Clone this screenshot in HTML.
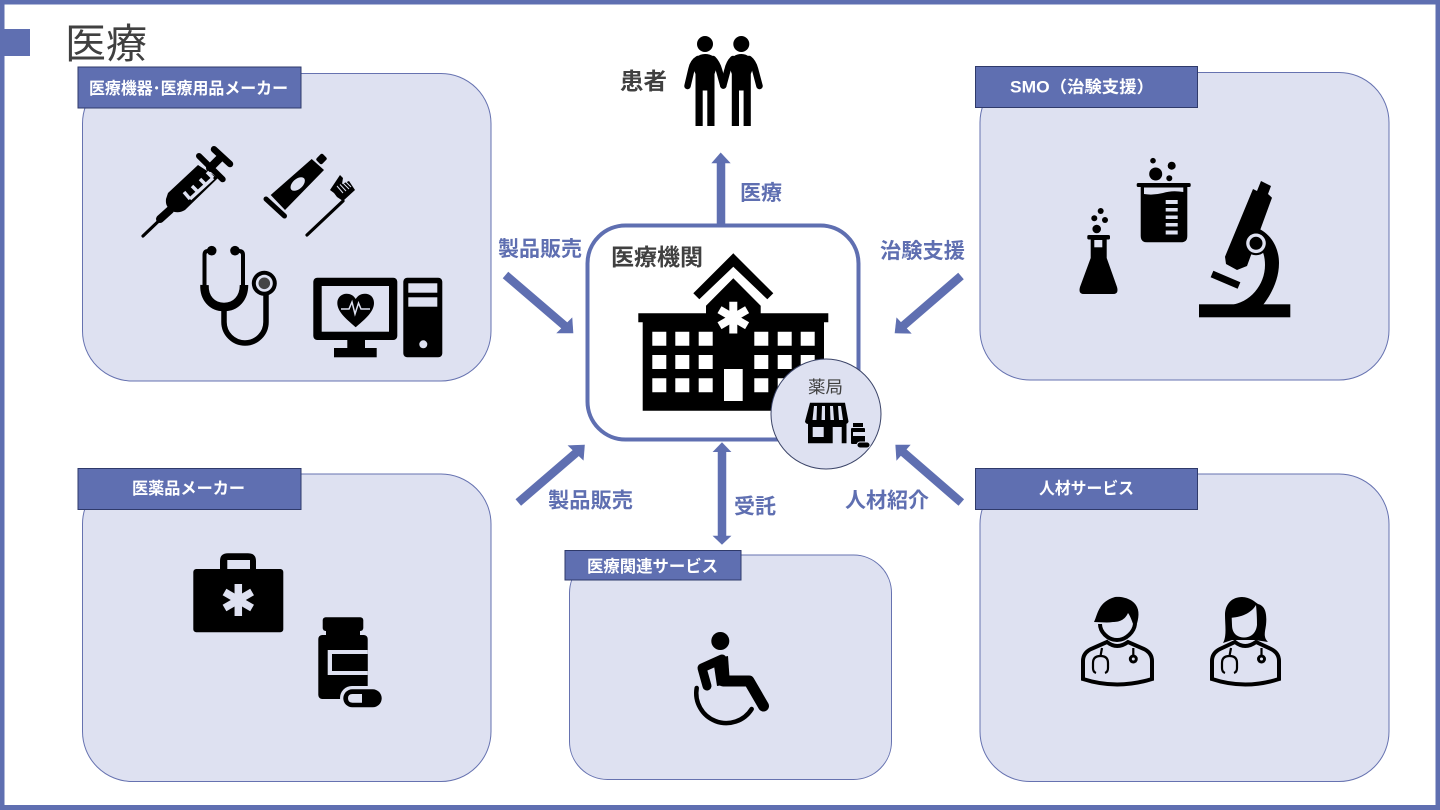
<!DOCTYPE html>
<html lang="ja"><head><meta charset="utf-8"><title>医療</title>
<style>
html,body{margin:0;padding:0;background:#fff;width:1440px;height:810px;overflow:hidden}
svg{display:block}
text{font-family:"Liberation Sans","Noto Sans CJK JP",sans-serif}
.a{font-size:21px;font-weight:700;fill:#5f6fb1}
.d{font-weight:700;fill:#404040;font-size:23px}
.l{font-weight:700;fill:#fff;font-size:16.5px}
.p{fill:#dee1f1;stroke:#6672b0;stroke-width:1}
.h{fill:#5f6fb1;stroke:#2f3a6a;stroke-width:1}
</style></head><body>
<svg width="1440" height="810" viewBox="0 0 1440 810" xmlns="http://www.w3.org/2000/svg">
<rect width="1440" height="810" fill="#fff"/>
<path d="M0 0H1440V810H0ZM4.500 4.500V805H1435.500V4.500Z" fill="#5f6fb1" fill-rule="evenodd"/>
<rect x="0" y="29" width="30" height="27" fill="#5f6fb1"/>
<text x="65" y="58" font-size="41" fill="#404040" textLength="82" lengthAdjust="spacingAndGlyphs">医療</text>

<!-- panels -->
<rect class="p" x="82.500" y="73.500" width="408.500" height="307.500" rx="50"/>
<rect class="p" x="980" y="72.500" width="409" height="307.500" rx="50"/>
<rect class="p" x="82.500" y="474" width="408.500" height="307.500" rx="50"/>
<rect class="p" x="980" y="474" width="409" height="307.500" rx="50"/>
<rect class="p" x="569.500" y="555" width="322" height="224.500" rx="38"/>

<rect class="h" x="78" y="67" width="223" height="41"/>
<rect class="h" x="975.500" y="66.500" width="222" height="41"/>
<rect class="h" x="78" y="468.500" width="223" height="41"/>
<rect class="h" x="975.500" y="468.500" width="222" height="41"/>
<rect class="h" x="565" y="550.500" width="176" height="29.500"/>
<text class="l" x="89" y="94" textLength="199" lengthAdjust="spacingAndGlyphs">医療機器･医療用品メーカー</text>
<text class="l" x="1010" y="92.500" textLength="144" lengthAdjust="spacingAndGlyphs">SMO（治験支援）</text>
<text class="l" x="132" y="494" textLength="113" lengthAdjust="spacingAndGlyphs">医薬品メーカー</text>
<text class="l" x="1039" y="494" textLength="95" lengthAdjust="spacingAndGlyphs">人材サービス</text>
<text class="l" x="587" y="572" textLength="131" lengthAdjust="spacingAndGlyphs">医療関連サービス</text>

<!-- center box -->
<rect x="587.500" y="225.500" width="271" height="214" rx="38" fill="#fff" stroke="#5f6fb1" stroke-width="4"/>
<text class="d" x="611" y="265" textLength="92" lengthAdjust="spacingAndGlyphs">医療機関</text>
<text class="d" x="620" y="89" textLength="47" lengthAdjust="spacingAndGlyphs">患者</text>

<!-- connector labels -->
<text class="a" x="498" y="256" textLength="84" lengthAdjust="spacingAndGlyphs">製品販売</text>
<text class="a" x="740" y="200" textLength="42" lengthAdjust="spacingAndGlyphs">医療</text>
<text class="a" x="880" y="258" textLength="85" lengthAdjust="spacingAndGlyphs">治験支援</text>
<text class="a" x="548" y="507.500" textLength="85" lengthAdjust="spacingAndGlyphs">製品販売</text>
<text class="a" x="734" y="513.500" textLength="42" lengthAdjust="spacingAndGlyphs">受託</text>
<text class="a" x="845" y="507.500" textLength="84" lengthAdjust="spacingAndGlyphs">人材紹介</text>

<!-- arrows -->
<g fill="#5f6fb1" stroke="#5f6fb1">
<g stroke-width="8.500">
<line x1="721" y1="226" x2="721" y2="160"/>
<line x1="505.500" y1="275" x2="565" y2="326"/>
<line x1="961" y1="276" x2="903" y2="326"/>
<line x1="518.300" y1="502.500" x2="577" y2="452"/>
<line x1="961.300" y1="502.500" x2="903" y2="452"/>
<line x1="722" y1="448" x2="722" y2="538"/>
</g>
<g stroke-width=".6">
<polygon points="720.700,153 730,163 712,163"/>
<polygon points="573,333 572,318 557,333"/>
<polygon points="895,333 896.700,318 911,333.300"/>
<polygon points="584.500,445 568.300,445.700 583.300,460"/>
<polygon points="895.700,445 910,445 896.700,460"/>
<polygon points="722,442.700 730.700,451.700 713.300,451.700"/>
<polygon points="722,544.300 730.700,536 713.300,536"/>
</g>
</g>

<!-- patients -->
<g fill="#000">
<circle cx="705" cy="44" r="8"/><circle cx="741.300" cy="44" r="8"/>
<path d="M695.500 126V74L692 66Q695 54 705 54Q715 54 718 64L714.500 74V126H707.300V90.500H702.700V126Z"/>
<path d="M731.800 126V74L728.500 64Q732 54 741.500 54Q751 54 754 66L750.800 74V126H743.600V90.500H739V126Z"/>
<g stroke="#000" stroke-width="6.500" stroke-linecap="round" fill="none">
<path d="M698 59Q693 62 691.500 69L687.500 86"/>
<path d="M713 59Q717 63 719 70L723.300 85.500"/>
<path d="M733 59Q729 63 727.500 70L723.300 85.500"/>
<path d="M749 59Q753 62 755 69L759.500 86"/>
</g>
</g>

<!-- hospital -->
<g fill="#000">
<polygon points="733.300,253.300 773.300,293.300 767.300,299.300 733.300,266.700 699.300,299.300 693.300,293.300"/>
<polygon points="733.300,278.300 760.700,305.700 760.700,313.300 828.300,313.300 828.300,322.300 824,322.300 824,410.700 642.700,410.700 642.700,322.300 638.300,322.300 638.300,313.300 706,313.300 706,305.700"/>
</g>
<g fill="#fff">
<path d="M652.300 331.700h14v14h-14zM675.300 331.700h14v14h-14zM698.700 331.700h14v14h-14zM754.300 331.700h14v14h-14zM777.700 331.700h14v14h-14zM800.700 331.700h14v14h-14zM652.300 355h14v14h-14zM675.300 355h14v14h-14zM698.700 355h14v14h-14zM754.300 355h14v14h-14zM777.700 355h14v14h-14zM800.700 355h14v14h-14zM652.300 378.300h14v14h-14zM675.300 378.300h14v14h-14zM698.700 378.300h14v14h-14zM754.300 378.300h14v14h-14zM777.700 378.300h14v14h-14zM800.700 378.300h14v14h-14z"/>
<rect x="724" y="369" width="18.700" height="32"/>
</g>
<g stroke="#fff" stroke-width="8"><line x1="733.300" y1="301.700" x2="733.300" y2="333.500"/><line x1="719.500" y1="309.700" x2="747.100" y2="325.700"/><line x1="719.500" y1="325.700" x2="747.100" y2="309.700"/></g>

<!-- pharmacy -->
<circle cx="826" cy="414" r="55" fill="#dee1f1" stroke="#3b4468" stroke-width="1"/>
<text x="808" y="393" font-size="17" fill="#404040" textLength="35" lengthAdjust="spacingAndGlyphs">薬局</text>
<path d="M808 421V443.300H846.500V421Z" fill="#000"/>
<path d="M810 402.700H845L848.500 421.500Q848 424 845 424H808.500Q805.500 424 805 421.500Z" fill="#000"/>
<g fill="#dee1f1">
<path d="M814 406H817L816.500 420H812.500ZM822 406H825L825 420H821.500ZM830 406H833L834 420H830.500ZM838 406H841L843 420H839Z"/>
<rect x="812.700" y="427" width="11" height="10"/><rect x="832.700" y="427" width="9" height="16.500"/>
</g>
<g fill="#000"><rect x="853" y="423" width="10" height="4"/><rect x="851" y="428" width="14" height="16" rx="1"/><rect x="857" y="442" width="13" height="6" rx="3" stroke="#dee1f1"/></g>
<rect x="853" y="432" width="12" height="4" fill="#dee1f1"/>

<!-- syringe -->
<g stroke="#000" fill="none" stroke-linecap="round">
<line x1="143" y1="236" x2="166" y2="214" stroke-width="3.200"/>
<line x1="160" y1="219" x2="170" y2="210" stroke-width="8"/>
<line x1="199" y1="156" x2="222.700" y2="179.300" stroke-width="6"/>
<line x1="210" y1="168" x2="220" y2="158" stroke-width="8"/>
<line x1="214" y1="149.300" x2="230" y2="164" stroke-width="6.500"/>
</g>
<path d="M168 193L198 165L218 178L185 210Q178 214 172 211Q165 207 166 199Z" fill="#000"/>
<g stroke="#dee1f1" fill="none" stroke-width="3.500"><path d="M190 199L213 178"/><path d="M190 199L184 192M198 192L192 186M206 185L200 179M213 178L207 172"/></g>

<!-- toothpaste + brush -->
<polygon points="311.700,159 324,170 285,210 270.700,195" fill="#000"/>
<rect x="317" y="155" width="9" height="8" rx="2" transform="rotate(-45 321.500 159)" fill="#000"/>
<line x1="266" y1="199" x2="284.500" y2="216" stroke="#000" stroke-width="5" stroke-linecap="round"/>
<ellipse cx="297.700" cy="184" rx="8.500" ry="5" transform="rotate(-42 297.700 184)" fill="#dee1f1"/>
<line x1="307" y1="235" x2="343" y2="201" stroke="#000" stroke-width="3.200" stroke-linecap="round"/>
<path d="M330 190L340 175L343 178L342 184L349 181L355 190L343 201L337 197L334 193Z" fill="#000"/>
<g stroke="#dee1f1" stroke-width="1"><line x1="337" y1="186" x2="343" y2="193"/><line x1="340" y1="184.500" x2="346" y2="191"/><line x1="343" y1="183" x2="349" y2="189"/><line x1="346" y1="182" x2="351" y2="187"/></g>

<!-- stethoscope -->
<g fill="none" stroke="#000">
<path d="M211 251H208Q204.500 251 204.500 255V286" stroke-width="4"/>
<path d="M235 251H239Q243 251 243 255V286" stroke-width="4"/>
<path d="M204.500 285C204 298 212 307 224 307C236 307 244 298 244 285" stroke-width="8.500"/>
<path d="M224 306V322A21 21 0 0 0 266 322V292" stroke-width="5.500"/>
</g>
<g fill="#000"><circle cx="211.700" cy="250.700" r="4.800"/><circle cx="235" cy="250.700" r="4.800"/><circle cx="264.300" cy="283.300" r="12.500"/></g>
<circle cx="264.300" cy="283.300" r="8.500" fill="#dee1f1"/><circle cx="264.300" cy="283.300" r="5.800" fill="#444"/>

<!-- monitor -->
<rect x="313.300" y="277.700" width="84" height="62.300" rx="4" fill="#000"/>
<rect x="321.700" y="286" width="67.300" height="45.700" fill="#dee1f1"/>
<rect x="347.300" y="340" width="17.700" height="9" fill="#000"/>
<rect x="334" y="348" width="42.700" height="9.300" fill="#000"/>
<path d="M355.700 327.300C349 321 337.300 313 337.300 303C337.300 297 342 293.700 346.500 293.700C351 293.700 354 296 355.700 299C357.500 296 360.500 293.700 365 293.700C370 293.700 374 297 374 303C374 313 362.500 321 355.700 327.300Z" fill="#000"/>
<path d="M341 309H349L352 302L355 314L358.500 303L361 309H370" fill="none" stroke="#dee1f1" stroke-width="1.500"/>
<rect x="403.300" y="277.700" width="39" height="79.600" rx="4" fill="#000"/>
<rect x="408.300" y="283.300" width="29" height="9.400" fill="#dee1f1"/>
<rect x="408.300" y="297.300" width="29" height="9.400" fill="#dee1f1"/>
<circle cx="423.300" cy="344.300" r="4" fill="#dee1f1"/>

<!-- flask -->
<g fill="#000">
<rect x="1087.300" y="235" width="22.700" height="4.500" rx="1.500"/>
<path d="M1090.700 238H1106.700V258L1117 287Q1119 294 1113 294H1084Q1078 294 1080 287L1090.700 258Z"/>
<circle cx="1096.700" cy="229" r="4.300"/><circle cx="1094.300" cy="218.300" r="3"/><circle cx="1105" cy="220" r="3"/><circle cx="1100.700" cy="211" r="3"/>
</g>
<rect x="1094.300" y="240" width="8" height="7.300" fill="#dee1f1"/>

<!-- beaker -->
<g fill="#000">
<rect x="1136.700" y="183" width="54" height="4" rx="1.500"/>
<path d="M1140.700 186H1187.300V236Q1187.300 242.300 1181 242.300H1147Q1140.700 242.300 1140.700 236Z"/>
<circle cx="1155.700" cy="174" r="6.500"/><circle cx="1171.700" cy="165.700" r="4"/><circle cx="1169.300" cy="178.300" r="3"/><circle cx="1153" cy="160.700" r="2.800"/>
</g>
<path d="M1144 187.500H1183.300V192Q1172 190 1163 193Q1153 195.500 1144 194Z" fill="#dee1f1"/>
<g fill="#dee1f1"><rect x="1165.700" y="200" width="12" height="4"/><rect x="1165.700" y="208" width="12" height="3.500"/><rect x="1165.700" y="215.500" width="12" height="3.500"/><rect x="1165.700" y="223" width="12" height="3.500"/><rect x="1165.700" y="230.500" width="12" height="4"/></g>

<!-- microscope -->
<g fill="#000">
<rect x="1199" y="304.300" width="91.300" height="13"/>
<polygon points="1261,181 1271,186 1268,194 1272,197.700 1247,266 1237,270 1226,264 1225,256.700 1253,189 1257,191"/>
<path d="M1250 226C1268 229 1279 245 1279 263C1279 281 1270 296 1263 305H1230C1250 303 1265 285 1265 265C1265 250 1258 241 1250 237Z"/>
<circle cx="1256" cy="243.300" r="12"/>
</g>
<circle cx="1256" cy="243.300" r="9.800" fill="#dee1f1"/><circle cx="1256" cy="243.300" r="6.500" fill="#000"/>
<line x1="1212" y1="274" x2="1239" y2="285.500" stroke="#000" stroke-width="7"/>

<!-- medical bag -->
<rect x="193.300" y="569" width="90" height="63.300" rx="3" fill="#000"/>
<path d="M220 570V561Q220 553.300 228 553.300H248Q256 553.300 256 561V570H250V560H227.300V570Z" fill="#000"/>
<g stroke="#dee1f1" stroke-width="7.500"><line x1="238.300" y1="584" x2="238.300" y2="616"/><line x1="224.500" y1="592" x2="252.100" y2="608"/><line x1="224.500" y1="608" x2="252.100" y2="592"/></g>

<!-- bottle -->
<rect x="322.700" y="617.300" width="40.600" height="13.700" rx="3" fill="#000"/>
<rect x="326" y="629" width="34" height="8" fill="#000"/>
<rect x="318.300" y="635" width="49.400" height="64" rx="4" fill="#000"/>
<rect x="327.700" y="650" width="40" height="25" fill="#dee1f1"/>
<rect x="332" y="654" width="35.700" height="17" fill="#000"/>
<rect x="340" y="686" width="44" height="24" rx="12" fill="#dee1f1"/>
<rect x="343.300" y="689.300" width="38.400" height="18" rx="9" fill="#000"/>
<path d="M362 694H352.500Q348 694 348 698.300Q348 702.700 352.500 702.700H362Z" fill="#dee1f1"/>

<!-- wheelchair -->
<circle cx="720.300" cy="641" r="9" fill="#000"/>
<g fill="none" stroke="#000" stroke-linecap="round" stroke-linejoin="round">
<path d="M721 661L723 681H749L763.500 706" stroke-width="11"/>
<path d="M722 659L702 668L707 686" stroke-width="9"/>
<path d="M696.700 688A30 30 0 0 0 751.700 709" stroke-width="4.500"/>
</g>
<path d="M713 659L728 656L730 684L717 686Z" fill="#000"/>

<!-- male doctor -->
<g fill="none" stroke="#000" stroke-width="4">
<path d="M1083 679V661Q1083 653 1091 649L1107 642Q1117 650 1128 642L1144 649Q1152 653 1152 661V679Q1117 690 1083 679Z"/>
<path d="M1100 624C1100 632 1108 640 1117 640C1126 640 1134 632 1135 624"/>
<path d="M1096 673Q1093 672 1093 668V663Q1093 656 1100.500 656Q1108 656 1108 663V668Q1108 672 1105 673M1102 648L1100.500 656" stroke-width="2.200"/>
<path d="M1133.300 648V655" stroke-width="2.200"/>
</g>
<path d="M1094 622C1098 614 1098 602 1115 597C1124 596 1134 600 1137 607C1140 613 1138 622 1135 629C1132 622 1131 617 1128 613C1125 620 1119 622 1113 622C1107 623 1100 622 1094 622Z" fill="#000"/>
<circle cx="1133.300" cy="659" r="4.500" fill="#000"/><circle cx="1133.300" cy="659" r="1.500" fill="#dee1f1"/>

<!-- female doctor -->
<g fill="none" stroke="#000" stroke-width="4">
<path d="M1212 679V661Q1212 653 1220 649L1235 642Q1245 650 1256 642L1271 649Q1279 653 1279 661V679Q1245 690 1212 679Z"/>
<path d="M1225 673Q1222 672 1222 668V663Q1222 656 1229.500 656Q1237 656 1237 663V668Q1237 672 1234 673M1231 648L1229.500 656" stroke-width="2.200"/>
<path d="M1261.500 648V655" stroke-width="2.200"/>
</g>
<path d="M1223 643C1227 636 1225 625 1225 615C1225 604 1232 597 1242 597C1250 597 1255 602 1258 604C1266 606 1267 615 1266 625C1265 632 1263 637 1268 642L1255 640L1232 640Z" fill="#000"/>
<path d="M1231.700 617.700C1243 617 1252 612 1256 605C1257 615 1257 622 1257 625C1256 634 1250 637.500 1244 637.500C1238 637.500 1232 634 1232 625Z" fill="#dee1f1"/>
<circle cx="1261.500" cy="659" r="4.500" fill="#000"/><circle cx="1261.500" cy="659" r="1.500" fill="#dee1f1"/>
</svg>
</body></html>
